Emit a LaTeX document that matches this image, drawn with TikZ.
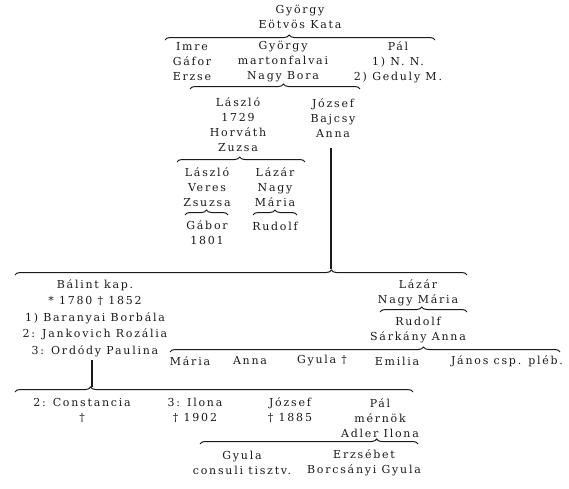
\documentclass[tikz,border=0pt]{standalone}
\usepackage{fontspec}
\setmainfont{DejaVu Serif}[LetterSpace=16]
\usepackage{xcolor}
\usetikzlibrary{decorations.pathreplacing}
\definecolor{ink}  {HTML}{1A1A1A}
\definecolor{paper}{HTML}{FFFFFF}
\tikzset{
  person/.style = {font=\fontsize{11}{15}\selectfont, text=ink, align=center,
                   inner sep=0pt},
  brc/.style    = {decorate, decoration={brace, amplitude=5pt, aspect=#1},
                   draw=ink, line width=1pt},
  brc/.default  = 0.5,
  stem/.style   = {draw=ink, line width=1.3pt},
}
\begin{document}
\begin{tikzpicture}[x=1pt, y=-1pt]
  \useasboundingbox[fill=paper] (0,0) rectangle (569,488);

  % first generation
  \node[person] (gyorgy1) at (300,17) {György\\Eötvös Kata};
  \draw[brc=0.46] (165,40) -- (435,40);
  \node[person] (imre)    at (192,62) {Imre\\Gáfor\\Erzse};
  \node[person] (gyorgy2) at (283,62) {György\\martonfalvai\\Nagy Bora};
  \node[person] (pal1)    at (398,62) {Pál\\1) N. N.\\2) Geduly M.};

  % second generation
  \draw[brc=0.55] (190,89) -- (360,89);
  \node[person] (laszlo1) at (238,125) {László\\1729\\Horváth\\Zuzsa};
  \node[person] (jozsef1) at (333,118) {József\\Bajcsy\\Anna};

  % László line
  \draw[brc=0.49] (177,162) -- (305,162);
  \node[person] (laszlo2) at (207,187) {László\\Veres\\Zsuzsa};
  \node[person] (lazar1)  at (275,187) {Lázár\\Nagy\\Mária};
  \draw[brc] (185,215) -- (228,215);
  \draw[brc] (253,215) -- (297,215);
  \node[person] (gabor)   at (207,233) {Gábor\\1801};
  \node[person] (rudolf1) at (275,226) {Rudolf};

  % József line
  \coordinate (t6) at (331,269);
  \draw[stem] ([yshift=-10pt]jozsef1.south -| t6) -- (t6);
  \draw[brc=0.70] (15,275) -- (467,275);
  \node[person, font=\fontsize{11}{16.5}\selectfont] (balint) at (95,318)
    {Bálint kap.\\* 1780 † 1852\\1) Baranyai Borbála\\2: Jankovich Rozália\\3: Ordódy Paulina};
  \node[person] (lazar2)  at (418,293) {Lázár\\Nagy Mária};
  \draw[brc=0.48] (380,312) -- (467,312);
  \node[person] (rudolf2) at (418,330) {Rudolf\\Sárkány Anna};
  \draw[brc=0.65] (170,352) -- (560,352);
  \node[person] (maria)   at (190,361) {Mária};
  \node[person] (anna)    at (250,361) {Anna};
  \node[person] (gyula1)  at (322,361) {Gyula †};
  \node[person] (emilia)  at (397,361) {Emilia};
  \node[person] (janos)   at (507,361) {János csp. pléb.};

  % Bálint line
  \coordinate (t9) at (92,387);
  \draw[stem] ([yshift=-3pt]balint.south -| t9) -- (t9);
  \draw[brc=0.19] (15,392) -- (413,392);
  \node[person] (constancia) at (82,410)  {2: Constancia\\†};
  \node[person] (ilona)      at (195,410) {3: Ilona\\† 1902};
  \node[person] (jozsef2)    at (290,410) {József\\† 1885};
  \node[person] (pal2)       at (380,418) {Pál\\mérnök\\Adler Ilona};
  \draw[brc=0.81] (200,444) -- (418,444);
  \node[person] (gyula2)     at (242,463) {Gyula\\consuli tisztv.};
  \node[person] (erzsebet)   at (364,463) {Erzsébet\\Borcsányi Gyula};
\end{tikzpicture}
\end{document}
